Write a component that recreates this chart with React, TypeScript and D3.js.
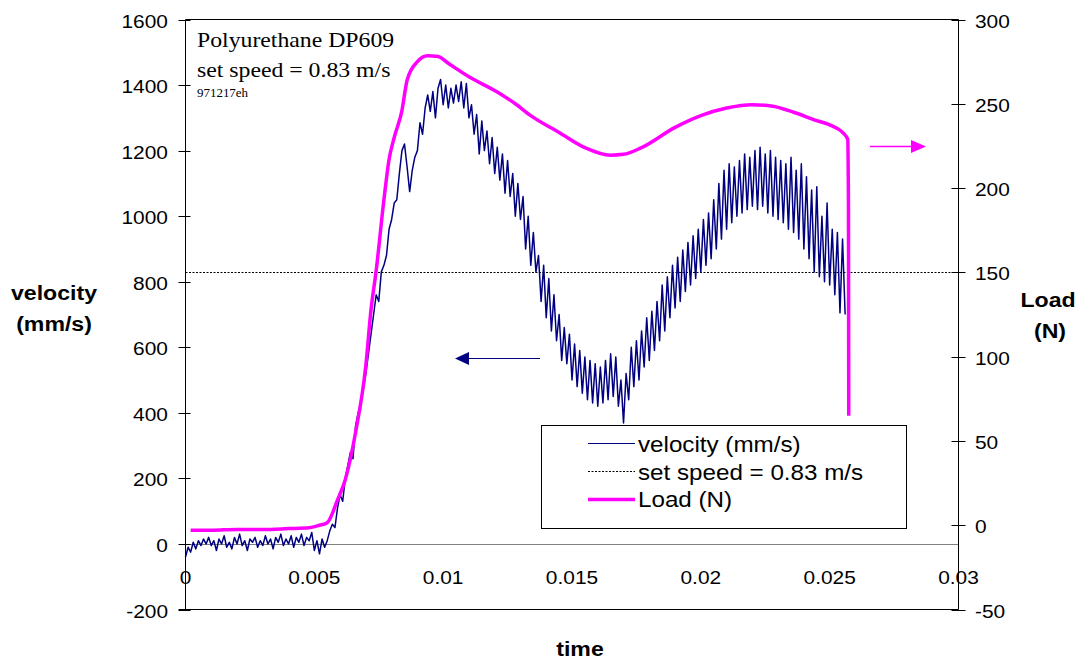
import React from "react";
import * as d3 from "d3";

// ---------------- DATA ----------------
// velocity (mm/s) sampled every 0.0001 s starting at t = 0
const VELOCITY_DT = 0.0001;
const velocity: number[] = [
  -40, -10, -25, 5, -15, 10, -5, 15, 0, 20,
  -5, 10, -20, 15, 0, 25, -10, 5, -15, 20,
  0, 30, -5, 10, -20, 15, 5, 20, -10, 10,
  -5, 25, 0, 15, -15, 20, 5, 30, -5, 15,
  0, 25, -10, 20, 5, 30, -5, 20, 10, 35,
  -20, 10, -30, 15, -10, 10, 40, 60, 50, 110,
  150, 130, 200, 240, 280, 260, 360, 400, 430, 470,
  520, 580, 640, 700, 760, 740, 830, 850, 880, 960,
  990, 1040, 1050, 1130, 1200, 1220, 1150, 1075, 1140, 1180,
  1200, 1285, 1250, 1330, 1370, 1320, 1380, 1300, 1390, 1417,
  1340, 1400, 1330, 1390, 1345, 1400, 1350, 1410, 1330, 1405,
  1300, 1340, 1250, 1310, 1190, 1290, 1200, 1260, 1160, 1240,
  1130, 1210, 1110, 1190, 1070, 1170, 1060, 1130, 1000, 1100,
  990, 1060, 900, 1000, 850, 950, 830, 880, 740, 850,
  690, 810, 650, 760, 620, 700, 560, 660, 550, 640,
  500, 610, 480, 590, 460, 570, 440, 560, 430, 550,
  420, 540, 430, 560, 440, 580, 450, 570, 420, 500,
  369, 520, 440, 600, 480, 620, 500, 650, 540, 690,
  560, 710, 590, 740, 620, 790, 650, 815, 690, 850,
  720, 875, 740, 897, 770, 920, 790, 940, 810, 960,
  830, 990, 850, 1010, 870, 1050, 900, 1100, 930, 1140,
  960, 1160, 980, 1150, 1000, 1170, 1010, 1190, 1020, 1180,
  1030, 1200, 1020, 1210, 1030, 1190, 1010, 1200, 1000, 1180,
  990, 1170, 980, 1160, 960, 1180, 950, 1140, 930, 1160,
  900, 1120, 870, 1080, 830, 1090, 815, 1000, 800, 1040,
  790, 960, 760, 950, 705, 930, 700,
];

// Load (N), right axis
const loadTime: number[] = [
  0.0002, 0.001, 0.002, 0.003, 0.004, 0.0048, 0.0052, 0.0055, 0.0059, 0.0062,
  0.0066, 0.007, 0.0072, 0.0074, 0.0077, 0.0079, 0.0081, 0.0084, 0.0086, 0.009,
  0.0094, 0.0098, 0.0102, 0.011, 0.0121, 0.0128, 0.0134, 0.0145, 0.0155, 0.0165,
  0.017, 0.0177, 0.019, 0.02, 0.021, 0.022, 0.0228, 0.0236, 0.0245, 0.025,
  0.0255, 0.0257, 0.02573, 0.02574,
];
const loadValue: number[] = [
  -3, -3, -2.5, -2.5, -2, -1.5, 0, 1.5, 15, 27,
  55, 95, 128, 151, 193, 217, 230, 246, 264, 275,
  278.5, 278, 274, 266, 257, 250, 243, 233, 224, 219.5,
  220, 224, 236, 243, 247.5, 249.5, 248.5, 245, 240, 237.5,
  233, 229, 187, 65,
];

const setSpeed = 830; // mm/s

const xTicks = [0, 0.005, 0.01, 0.015, 0.02, 0.025, 0.03];
const xTickLabels = ["0", "0.005", "0.01", "0.015", "0.02", "0.025", "0.03"];
const leftTicks = [-200, 0, 200, 400, 600, 800, 1000, 1200, 1400, 1600];
const rightTicks = [-50, 0, 50, 100, 150, 200, 250, 300];

const legendLabels = ["velocity (mm/s)", "set speed = 0.83 m/s", "Load (N)"];
const noteLines = ["Polyurethane DP609", "set speed = 0.83 m/s", "971217eh"];

// ---------------- LAYOUT ----------------
const W = 1085;
const H = 662;
const L = 185.5;
const R = 958.5;
const T = 19.5;
const B = 609.5;
const SX = 1.1;
const SANS = "'Liberation Sans', Arial, sans-serif";
const SERIF = "'Liberation Serif', 'Times New Roman', serif";
const NAVY = "#000080";
const MAGENTA = "#FF00FF";

const x = d3.scaleLinear().domain([0, 0.03]).range([L, R]);
const yL = d3.scaleLinear().domain([-200, 1600]).range([B, T]);
const yR = d3.scaleLinear().domain([-50, 300]).range([B, T]);

function SText(props: {
  x: number;
  y: number;
  children: React.ReactNode;
  size: number;
  anchor?: string;
  weight?: string;
  family?: string;
  sx?: number;
}) {
  const { x: tx, y: ty, children, size, anchor = "start", weight = "normal", family = SANS, sx = SX } = props;
  return (
    <text
      transform={`translate(${tx},${ty}) scale(${sx},1)`}
      fontSize={size}
      fontFamily={family}
      fontWeight={weight}
      textAnchor={anchor}
      fill="#000"
    >
      {children}
    </text>
  );
}

export default function App() {
  const velLine = d3
    .line<number>()
    .x((_, i) => x(i * VELOCITY_DT))
    .y((d) => yL(d));
  const loadLine = d3
    .line<number>()
    .x((_, i) => x(loadTime[i]))
    .y((d) => yR(d))
    .curve(d3.curveMonotoneX);

  const zeroY = Math.round(yL(0)) + 0.5;
  const setY = Math.round(yL(setSpeed)) + 0.5;

  const legX0 = 588;
  const legX1 = 635;
  const legRows = [443.5, 471.5, 499.5];

  return (
    <div style={{ position: "absolute", left: 0, top: 0 }}>
      <svg width={W} height={H} style={{ display: "block", background: "#fff" }}>
        <rect x={0} y={0} width={W} height={H} fill="#fff" />

        {/* zero line (x-axis) */}
        <line x1={L} x2={R} y1={zeroY} y2={zeroY} stroke="#808080" strokeWidth={1} />

        {/* set speed dotted line */}
        <line
          x1={L}
          x2={R}
          y1={setY}
          y2={setY}
          stroke="#000"
          strokeWidth={1}
          strokeDasharray="2,1.5"
        />

        {/* velocity */}
        <path d={velLine(velocity) || ""} fill="none" stroke={NAVY} strokeWidth={1.5} strokeLinejoin="round" />

        {/* load */}
        <path d={loadLine(loadValue) || ""} fill="none" stroke={MAGENTA} strokeWidth={3.5} strokeLinejoin="round" />

        {/* plot frame */}
        <line x1={L} x2={R} y1={T} y2={T} stroke="#000" strokeWidth={1} />
        <line x1={L - 7} x2={R} y1={B} y2={B} stroke="#000" strokeWidth={1} />
        <line x1={L} x2={L} y1={T} y2={B} stroke="#000" strokeWidth={1} />
        <line x1={R} x2={R} y1={T} y2={B} stroke="#000" strokeWidth={1} />

        {/* left ticks */}
        {leftTicks.map((v) => {
          const yy = Math.round(yL(v)) + 0.5;
          return (
            <g key={"l" + v}>
              <line x1={L - 7} x2={L + 5} y1={yy} y2={yy} stroke="#000" />
              <SText x={168} y={yy + 7} size={19} anchor="end">
                {String(v)}
              </SText>
            </g>
          );
        })}

        {/* right ticks */}
        {rightTicks.map((v) => {
          const yy = Math.round(yR(v)) + 0.5;
          return (
            <g key={"r" + v}>
              <line x1={R - 7} x2={R + 7} y1={yy} y2={yy} stroke="#000" />
              <SText x={975} y={yy + 7} size={19} anchor="start">
                {String(v)}
              </SText>
            </g>
          );
        })}

        {/* x tick labels */}
        {xTicks.map((v, i) => (
          <SText key={"x" + v} x={x(v)} y={584} size={19} anchor="middle">
            {xTickLabels[i]}
          </SText>
        ))}

        {/* axis titles */}
        <SText x={54} y={300} size={21} weight="bold" anchor="middle">
          velocity
        </SText>
        <SText x={54} y={331} size={21} weight="bold" anchor="middle">
          (mm/s)
        </SText>
        <SText x={1048} y={307} size={21} weight="bold" anchor="middle">
          Load
        </SText>
        <SText x={1050} y={338} size={21} weight="bold" anchor="middle">
          (N)
        </SText>
        <SText x={580} y={656} size={21} weight="bold" anchor="middle">
          time
        </SText>

        {/* annotation */}
        <SText x={197} y={47} size={22} family={SERIF} sx={1.08}>
          {noteLines[0]}
        </SText>
        <SText x={197} y={77} size={22} family={SERIF} sx={1.08}>
          {noteLines[1]}
        </SText>
        <SText x={197} y={97} size={12} family={SERIF} sx={1.08}>
          {noteLines[2]}
        </SText>

        {/* arrows */}
        <line x1={540} x2={466} y1={358.5} y2={358.5} stroke={NAVY} strokeWidth={1.2} />
        <path d="M455,358.5 L469,352 L469,365 Z" fill={NAVY} />
        <line x1={870} x2={914} y1={146.5} y2={146.5} stroke={MAGENTA} strokeWidth={1.5} />
        <path d="M926,146.5 L911,140 L911,153 Z" fill={MAGENTA} />

        {/* legend */}
        <rect x={541.5} y={425.5} width={365} height={103} fill="#fff" stroke="#000" strokeWidth={1} />
        <line x1={legX0} x2={legX1} y1={legRows[0]} y2={legRows[0]} stroke={NAVY} strokeWidth={1.2} />
        <line
          x1={legX0}
          x2={legX1}
          y1={legRows[1]}
          y2={legRows[1]}
          stroke="#000"
          strokeWidth={1}
          strokeDasharray="2,1.5"
        />
        <line x1={legX0} x2={legX1} y1={legRows[2]} y2={legRows[2]} stroke={MAGENTA} strokeWidth={3.5} />
        <SText x={638} y={452} size={22}>
          {legendLabels[0]}
        </SText>
        <SText x={638} y={480} size={22}>
          {legendLabels[1]}
        </SText>
        <SText x={638} y={507} size={22}>
          {legendLabels[2]}
        </SText>
      </svg>
    </div>
  );
}
